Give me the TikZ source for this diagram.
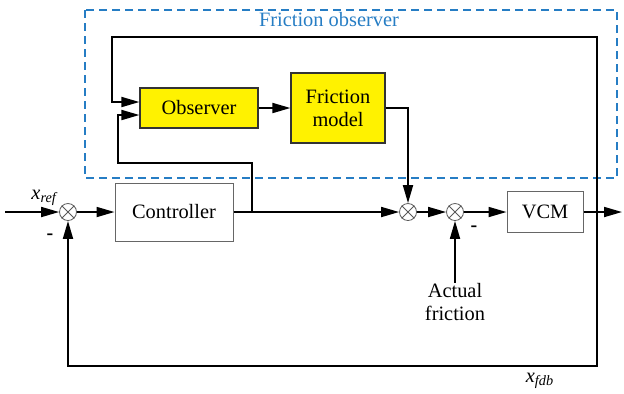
\documentclass[tikz,border=0pt]{standalone}
\usepackage{fontspec}
\setmainfont{Liberation Serif}
\usetikzlibrary{arrows.meta}
\definecolor{obsblue}{RGB}{38,125,196}
\begin{document}
\begin{tikzpicture}[
    x=0.5pt, y=-0.5pt,
    block/.style={rectangle, draw=gray!80!black, line width=0.5pt, font=\fontsize{10.2}{11.5}\selectfont},
    yblock/.style={block, draw=black!80, fill=yellow, line width=0.6pt},
    sumj/.style={circle, draw=gray!70!black, line width=0.4pt, minimum size=8.5pt, inner sep=0pt},
    lbl/.style={font=\fontsize{10.2}{11.5}\selectfont, inner sep=0pt},
    sig/.style={line width=0.9pt},
    >={Triangle[length=9pt,width=5pt]}
]
\useasboundingbox (0,0) rectangle (624,393);
\draw[obsblue, dash pattern=on 4pt off 2.5pt, line width=0.6pt] (85,10) rectangle (617,178);
\node[lbl, text=obsblue] (title) at (329,20) {Friction observer};

\node[yblock, minimum width=59pt, minimum height=20pt] (obs) at (199,108) {Observer};
\node[yblock, minimum width=47pt, minimum height=35pt, align=center] (fric) at (338,108) {Friction\\model};
\node[block, minimum width=59pt, minimum height=29pt] (ctrl) at (174,212) {Controller};
\node[block, minimum width=38pt, minimum height=20.5pt] (vcm) at (545,212) {VCM};

\node[sumj] (s1) at (68,212) {};
\node[sumj] (s2) at (408,212) {};
\node[sumj] (s3) at (455,212) {};
\foreach \s in {s1,s2,s3} {
  \draw[gray!70!black, line width=0.4pt] (\s.north west) -- (\s.south east) (\s.north east) -- (\s.south west);
}

\node[lbl, align=center] (act) at (455,302) {Actual\\friction};
\node[lbl] (xref) at (45,198) {\textit{x}\textsubscript{\textit{ref}}};
\node[lbl] (xfdb) at (540,381) {\textit{x}\textsubscript{\textit{fdb}}};
\node[lbl, font=\bfseries] (m1) at (50,237) {-};
\node[lbl, font=\bfseries] (m3) at (474,229) {-};

\coordinate (in) at (5,212);
\coordinate (out) at (622,212);
\coordinate (b1) at (252,212);
\coordinate (b2) at (597,212);

\draw[sig, ->] (in) -- (s1);
\draw[sig, ->] (s1) -- (ctrl);
\draw[sig, ->] (ctrl) -- (s2);
\draw[sig, ->] (s2) -- (s3);
\draw[sig, ->] (s3) -- (vcm);
\draw[sig, ->] (vcm) -- (out);
\draw[sig, ->] (obs) -- (fric);
\draw[sig, ->] (fric.east) -| (s2.north);
\draw[sig, ->] (act) -- (s3);
\draw[sig, ->] (b2) |- (112,37) |- ([yshift=3pt]obs.west);
\draw[sig, ->] (b1) |- (118,163) |- ([yshift=-3.5pt]obs.west);
\draw[sig, ->] (b2) |- (68,366) -- (s1);
\end{tikzpicture}
\end{document}
